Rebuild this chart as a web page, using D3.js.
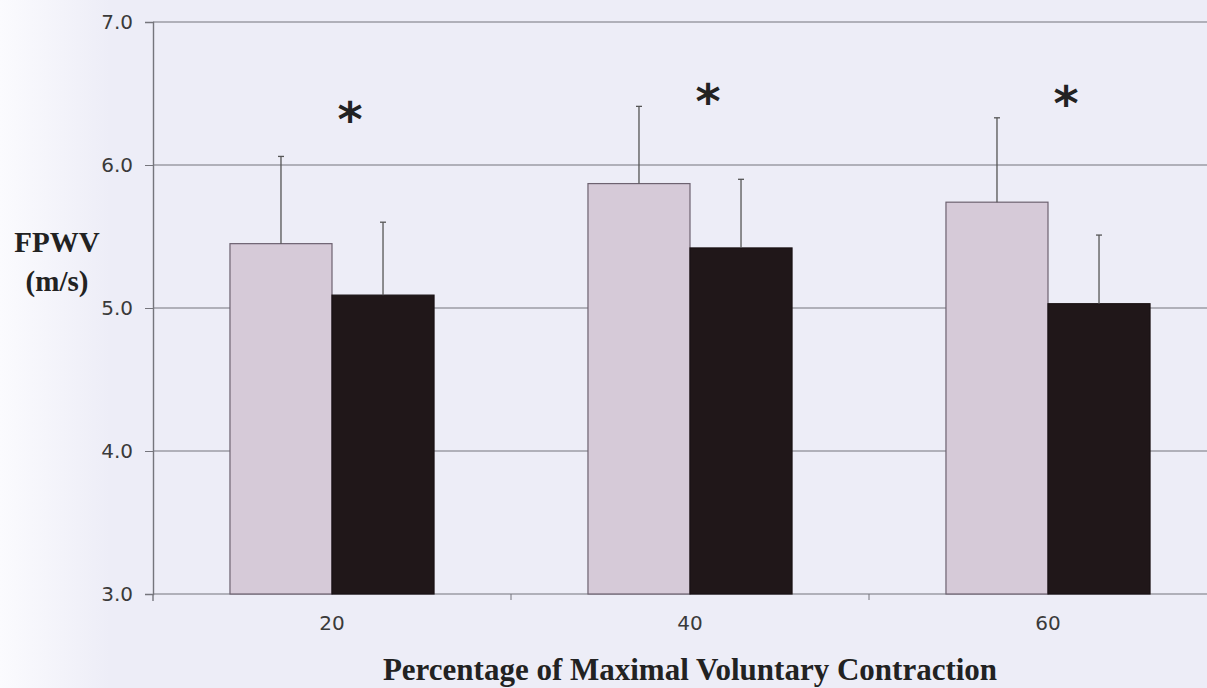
<!DOCTYPE html>
<html><head><meta charset="utf-8">
<script src="https://cdn.jsdelivr.net/npm/d3@7"></script>
<style>body{margin:0;padding:0;overflow:hidden;background:#ededf7}</style>
</head><body>
<svg id="chart" width="1207" height="688"></svg>
<script>
const categories = ["20", "40", "60"];
const seriesNames = ["before", "after"];
const beforeValues = [5.45, 5.87, 5.74];
const afterValues = [5.09, 5.42, 5.03];
const beforeErrTop = [6.06, 6.41, 6.33];
const afterErrTop = [5.60, 5.90, 5.51];
const yTicks = [3.0, 4.0, 5.0, 6.0, 7.0];
const asteriskLevel = [6.36, 6.48, 6.47];

(function() {
const svg = d3.select("#chart");
const W = 1207, H = 688;
const defs = svg.append("defs");
const grad = defs.append("linearGradient").attr("id", "lg").attr("x1", 0).attr("x2", 1);
grad.append("stop").attr("offset", "0").attr("stop-color", "#fbfbfe");
grad.append("stop").attr("offset", "1").attr("stop-color", "#ededf7");
svg.append("rect").attr("width", W).attr("height", H).attr("fill", "#ededf7");
svg.append("rect").attr("width", 110).attr("height", H).attr("fill", "url(#lg)");

const mLeft = 153, mTop = 22, mBottom = 594;
const x0 = d3.scaleBand().domain(categories).range([mLeft, mLeft + 3 * 358]).paddingInner(0.43).paddingOuter(0.215);
const x1 = d3.scaleBand().domain(seriesNames).range([0, x0.bandwidth()]);
const y = d3.scaleLinear().domain([3, 7]).range([mBottom, mTop]);

// gridlines
svg.append("g").selectAll("line").data(yTicks).join("line")
  .attr("x1", mLeft).attr("x2", W).attr("y1", d => y(d)).attr("y2", d => y(d))
  .attr("stroke", "#75757c").attr("stroke-width", 1.2);

// y axis
const yAxis = d3.axisLeft(y).tickValues(yTicks).tickFormat(d3.format(".1f")).tickSize(8).tickPadding(12);
const gy = svg.append("g").attr("transform", `translate(${mLeft},0)`).call(yAxis);
gy.select(".domain").attr("stroke", "#75757c").attr("stroke-width", 1.4);
gy.selectAll(".tick line").attr("stroke", "#75757c");
gy.selectAll("text").attr("font-family", "DejaVu Sans").attr("font-size", 20).attr("fill", "#3a3a3a");
svg.append("line").attr("x1", mLeft).attr("x2", mLeft).attr("y1", mBottom).attr("y2", mBottom + 7).attr("stroke", "#75757c").attr("stroke-width", 1.4);

// x axis
const xAxis = d3.axisBottom(x0).tickSize(0).tickPadding(22);
const gx = svg.append("g").attr("transform", `translate(0,${mBottom})`).call(xAxis);
gx.select(".domain").remove();
gx.selectAll("text").attr("font-family", "DejaVu Sans").attr("font-size", 20).attr("fill", "#3a3a3a");
// boundary ticks
svg.append("g").selectAll("line").data(categories.slice(1)).join("line")
  .attr("x1", d => x0(d) - x0.step() * x0.paddingInner() / 2)
  .attr("x2", d => x0(d) - x0.step() * x0.paddingInner() / 2)
  .attr("y1", mBottom).attr("y2", mBottom + 6).attr("stroke", "#75757c");

const groups = svg.append("g").selectAll("g").data(categories).join("g")
  .attr("transform", d => `translate(${x0(d)},0)`);

const colors = {before: "#d6cad8", after: "#201719"};
const strokes = {before: "#6d6270", after: "#1a1214"};
groups.each(function(c, i) {
  const g = d3.select(this);
  const rows = [
    {s: "before", v: beforeValues[i], e: beforeErrTop[i]},
    {s: "after", v: afterValues[i], e: afterErrTop[i]}
  ];
  g.selectAll("rect").data(rows).join("rect")
    .attr("x", d => x1(d.s)).attr("width", x1.bandwidth())
    .attr("y", d => y(d.v)).attr("height", d => y(3) - y(d.v))
    .attr("fill", d => colors[d.s]).attr("stroke", d => strokes[d.s]).attr("stroke-width", 1.2);
  g.selectAll("line.err").data(rows).join("line").attr("class", "err")
    .attr("x1", d => x1(d.s) + x1.bandwidth() / 2).attr("x2", d => x1(d.s) + x1.bandwidth() / 2)
    .attr("y1", d => y(d.v)).attr("y2", d => y(d.e))
    .attr("stroke", "#555").attr("stroke-width", 1.3);
  g.selectAll("line.cap").data(rows).join("line").attr("class", "cap")
    .attr("x1", d => x1(d.s) + x1.bandwidth() / 2 - 3).attr("x2", d => x1(d.s) + x1.bandwidth() / 2 + 3)
    .attr("y1", d => y(d.e)).attr("y2", d => y(d.e))
    .attr("stroke", "#555").attr("stroke-width", 1.3);
  g.append("text").text("*")
    .attr("x", x0.bandwidth() / 2 + 18).attr("y", y(asteriskLevel[i]) + 22)
    .attr("text-anchor", "middle").attr("font-family", "DejaVu Sans").attr("font-weight", "bold")
    .attr("font-size", 48).attr("fill", "#222");
});

// titles
svg.append("text").text("Percentage of Maximal Voluntary Contraction")
  .attr("x", 690).attr("y", 680).attr("text-anchor", "middle")
  .attr("font-family", "Liberation Serif").attr("font-weight", "bold").attr("font-size", 31).attr("fill", "#222");
svg.append("text").text("FPWV").attr("x", 57).attr("y", 252).attr("text-anchor", "middle")
  .attr("font-family", "Liberation Serif").attr("font-weight", "bold").attr("font-size", 29).attr("fill", "#222");
svg.append("text").text("(m/s)").attr("x", 57).attr("y", 291).attr("text-anchor", "middle")
  .attr("font-family", "Liberation Serif").attr("font-weight", "bold").attr("font-size", 29).attr("fill", "#222");
})();
</script>
</body></html>
